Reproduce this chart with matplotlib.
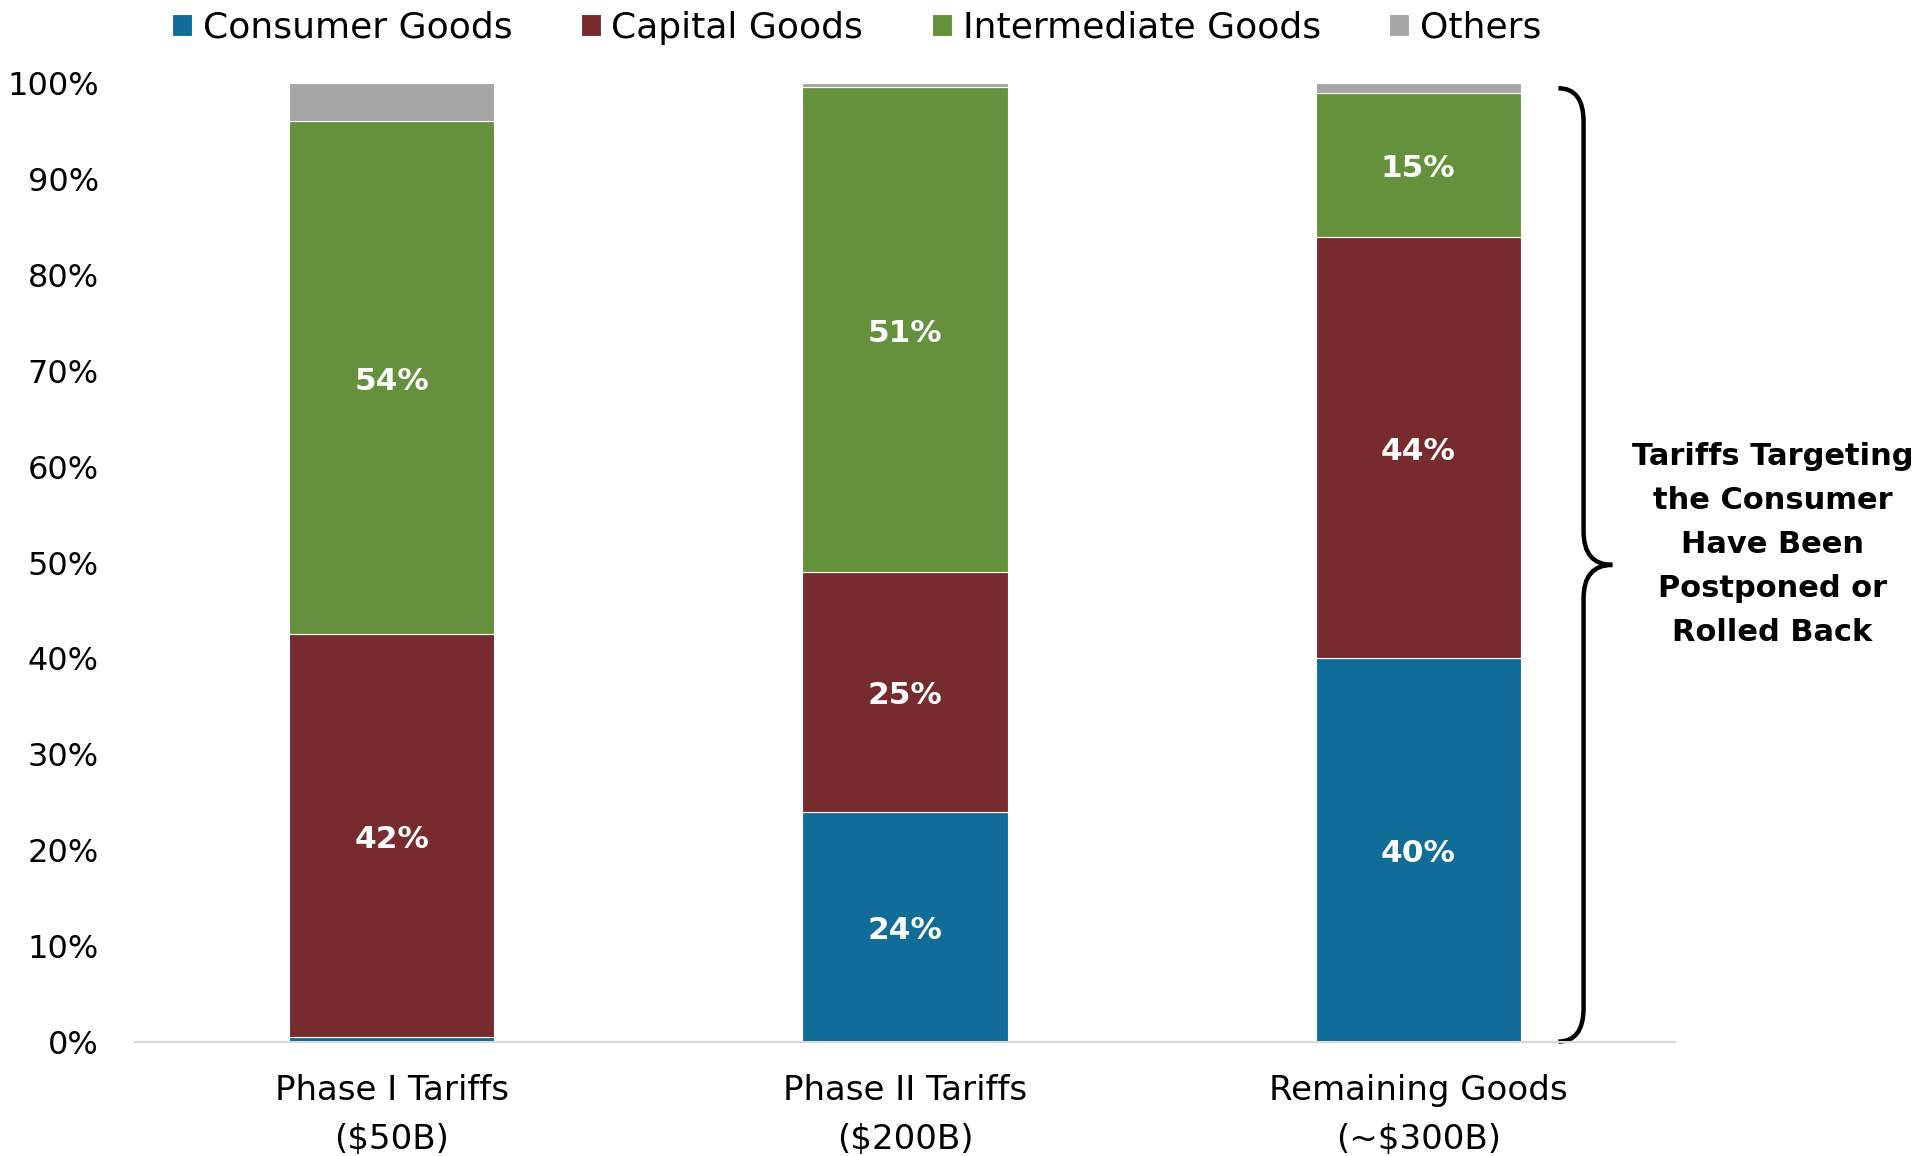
import matplotlib
matplotlib.use("Agg")
import matplotlib.pyplot as plt
import numpy as np
from matplotlib.path import Path
from matplotlib.patches import PathPatch

# Share of each tariff round by end-use category (percent)
categories = ["Phase I Tariffs\n($50B)", "Phase II Tariffs\n($200B)", "Remaining Goods\n(~$300B)"]
series_names = ["Consumer Goods", "Capital Goods", "Intermediate Goods", "Others"]
consumer = [0.5, 24.0, 40.0]
capital = [42.0, 25.0, 44.0]
intermediate = [53.6, 50.6, 15.0]
others = [3.9, 0.4, 1.0]
show_label = [[False, True, True], [True, True, True], [True, True, True], [False, False, False]]
colors = ["#0f6d98", "#772b2f", "#66913c", "#a6a6a6"]
yticks = np.arange(0, 101, 10)

plt.rcParams["font.family"] = ["DejaVu Sans"]

fig = plt.figure(figsize=(19.25, 11.56), dpi=100)
ax = fig.add_axes([0.0701, 0.0990, 0.800, 0.8288])

x = np.arange(len(categories))
bottom = np.zeros(len(categories))
handles = []
for name, vals, col, flags in zip(series_names, [consumer, capital, intermediate, others], colors, show_label):
    vals = np.array(vals)
    bars = ax.bar(x, vals, width=0.4, bottom=bottom, color=col, edgecolor="white",
                  linewidth=0.8, label=name, clip_on=False)
    handles.append(bars)
    for xi, v, b, f in zip(x, vals, bottom, flags):
        if f:
            ax.text(xi, b + v / 2 - 0.4, f"{v:.0f}%", ha="center", va="center",
                    color="white", fontsize=22.5, fontweight="bold")
    bottom = bottom + vals

ax.set_xlim(-0.5, 2.5)
ax.set_ylim(0, 100)
ax.set_yticks(yticks)
ax.set_yticklabels([f"{t}%" for t in yticks], fontsize=23)
ax.set_xticks(x)
ax.set_xticklabels(categories, fontsize=24.5, linespacing=1.62)
ax.tick_params(axis="both", length=0)
ax.tick_params(axis="y", pad=26)
ax.tick_params(axis="x", pad=23)
for s in ["top", "right", "left"]:
    ax.spines[s].set_visible(False)
ax.spines["bottom"].set_color("#d9d9d9")
ax.spines["bottom"].set_linewidth(1.5)

leg = fig.legend(handles=handles, labels=series_names, loc="center",
                 bbox_to_anchor=(0.445, 0.976), ncol=4, frameon=False,
                 fontsize=26, handlelength=0.55, handleheight=0.55,
                 handletextpad=0.3, columnspacing=1.9)

# Curly brace spanning the right bar
x0, xm, x1 = 2.273, 2.322, 2.378
ytop, ybot = 99.5, 0.0
ymid = (ytop + ybot) / 2
r = 3.5
verts = [
    (x0, ytop), (xm, ytop), (xm, ytop - r),
    (xm, ymid + r),
    (xm, ymid), (x1, ymid),
    (xm, ymid), (xm, ymid - r),
    (xm, ybot + r),
    (xm, ybot), (x0, ybot),
]
codes = [
    Path.MOVETO, Path.CURVE3, Path.CURVE3,
    Path.LINETO,
    Path.CURVE3, Path.CURVE3,
    Path.CURVE3, Path.CURVE3,
    Path.LINETO,
    Path.CURVE3, Path.CURVE3,
]
ax.add_patch(PathPatch(Path(verts, codes), facecolor="none", edgecolor="black",
                       linewidth=3.2, clip_on=False))

ax.text(2.69, ymid + 2.1, "Tariffs Targeting\nthe Consumer\nHave Been\nPostponed or\nRolled Back",
        ha="center", va="center", fontsize=22, fontweight="bold", linespacing=1.65,
        clip_on=False)

fig.savefig("out.png", dpi=100)
